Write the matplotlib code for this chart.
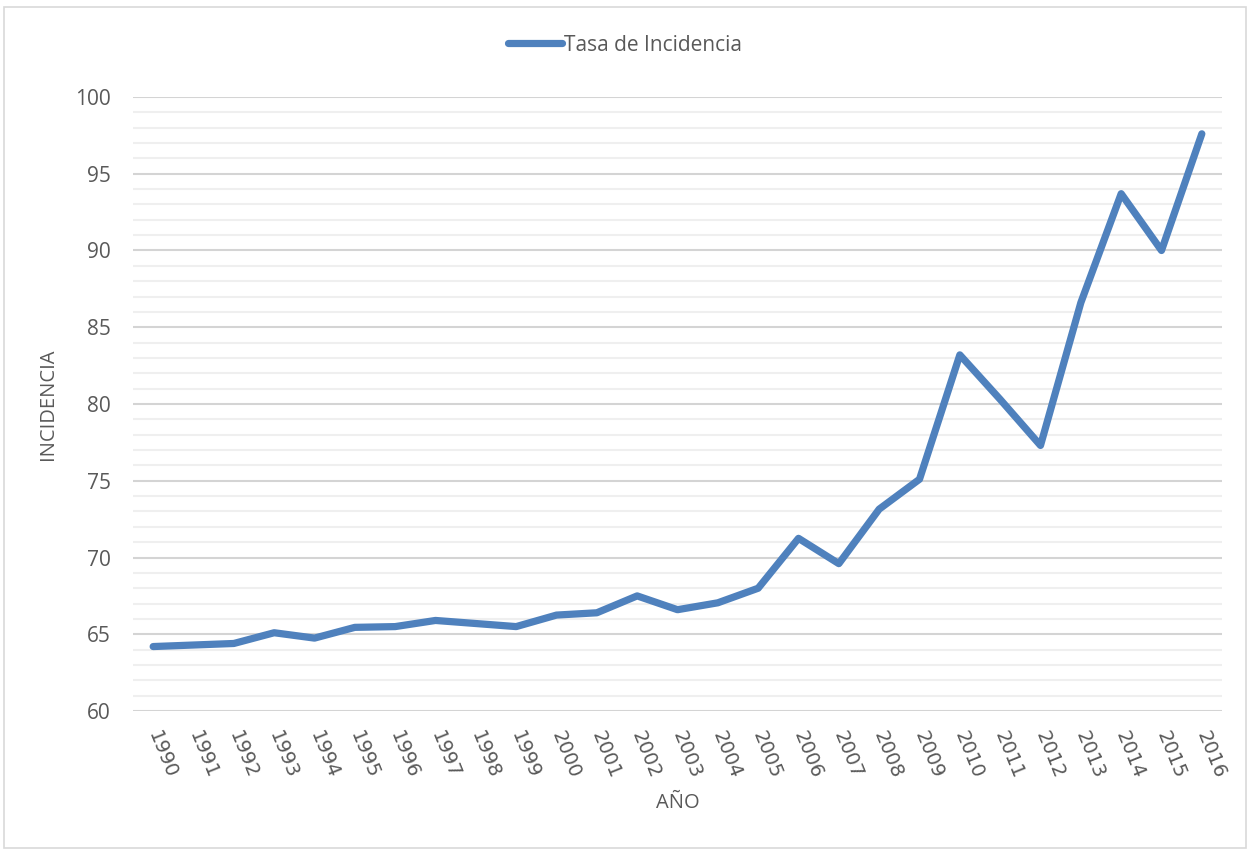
import numpy as np
import matplotlib.pyplot as plt
from matplotlib.patches import Rectangle
from matplotlib.ticker import MultipleLocator

plt.rcParams['font.family'] = ['Open Sans', 'DejaVu Sans']

years = [str(y) for y in range(1990, 2017)]
tasa = [64.2, 64.3, 64.4, 65.1, 64.75, 65.45, 65.5, 65.9, 65.7, 65.5,
        66.25, 66.4, 67.5, 66.6, 67.05, 68.0, 71.25, 69.6, 73.15, 75.1,
        83.2, 80.3, 77.3, 86.6, 93.7, 90.0, 97.6]

txt = '#595959'

fig = plt.figure(figsize=(12.5, 8.5), dpi=100)
ax = fig.add_axes([0.1064, 0.1635, 0.8712, 0.7224])

x = np.arange(len(years))
ax.plot(x, tasa, color='#4F81BD', lw=5.2, solid_capstyle='round',
        solid_joinstyle='round', label='Tasa de Incidencia', zorder=3)

ax.set_xlim(-0.5, len(years) - 0.5)
ax.set_ylim(60, 100)
ax.yaxis.set_major_locator(MultipleLocator(5))
ax.yaxis.set_minor_locator(MultipleLocator(1))
ax.grid(axis='y', which='major', color='#D4D4D4', lw=1.5, zorder=0)
ax.grid(axis='y', which='minor', color='#EFEFEF', lw=1.5, zorder=0)
ax.set_axisbelow(True)

for s in ax.spines.values():
    s.set_visible(False)
ax.tick_params(axis='both', which='both', length=0, colors=txt, labelsize=15)
ax.tick_params(axis='y', pad=16)

ax.set_xticks(x)
ax.set_xticklabels(years, rotation=-68, ha='left', va='center',
                   rotation_mode='anchor', family='DejaVu Sans', fontsize=14)
ax.tick_params(axis='x', pad=15)

ax.set_xlabel('AÑO', color=txt, fontsize=14.5, labelpad=8)
ax.set_ylabel('INCIDENCIA', color=txt, fontsize=14.5, labelpad=12)

leg = fig.legend(loc='center', bbox_to_anchor=(0.5, 0.947), frameon=False,
                 fontsize=15, handlelength=2.6, handletextpad=0.1)
for t in leg.get_texts():
    t.set_color(txt)

fig.patches.append(Rectangle((0.003, 0.002), 0.994, 0.99, transform=fig.transFigure,
                             fill=False, edgecolor='#D9D9D9', lw=1.2))

fig.savefig('out.png', dpi=100)
